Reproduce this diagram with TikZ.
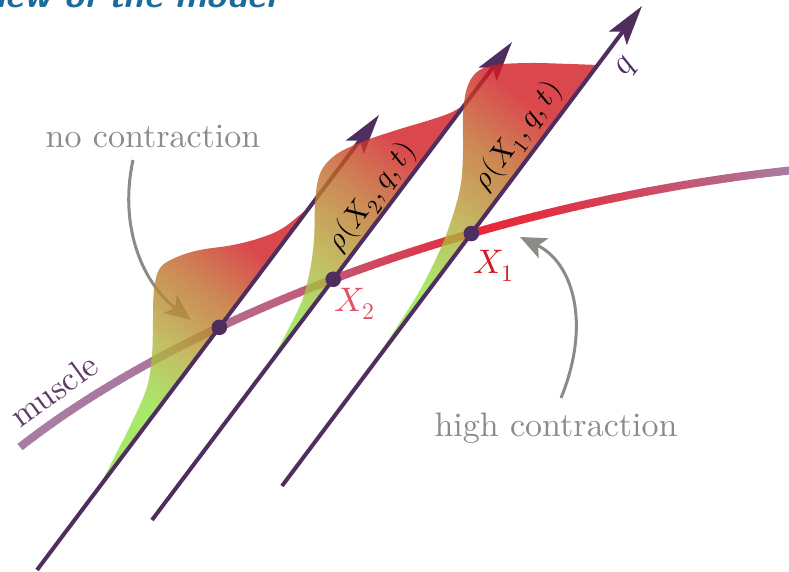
\documentclass[tikz,border=0pt]{standalone}
\usepackage{fontspec}
\usepackage{unicode-math}
\setmainfont{lmroman10-regular.otf}[ItalicFont=lmroman10-italic.otf,BoldFont=lmroman10-bold.otf]
\setmathfont{latinmodern-math.otf}
\usetikzlibrary{arrows.meta,intersections}
\definecolor{axcol}{RGB}{79,45,94}
\definecolor{graycol}{RGB}{138,140,134}
\definecolor{mpurp}{RGB}{168,124,163}
\definecolor{mred}{RGB}{232,40,55}
\definecolor{shgreen}{RGB}{146,226,69}
\definecolor{sholive}{RGB}{180,174,61}
\definecolor{shbrown}{RGB}{192,105,42}
\definecolor{shred}{RGB}{209,26,34}
\definecolor{xonecol}{RGB}{215,25,35}
\definecolor{xtwocol}{RGB}{224,80,100}
\definecolor{titleblue}{RGB}{26,108,156}
\definecolor{muslabel}{RGB}{95,60,105}
\pgfdeclareverticalshading{dens}{100bp}{color(0bp)=(shgreen); color(34bp)=(shgreen); color(46bp)=(sholive); color(60bp)=(shbrown); color(72bp)=(shred); color(100bp)=(shred)}
\begin{document}
\begin{tikzpicture}[x=0.5pt,y=-0.5pt,
  every node/.style={font=\fontsize{17}{20}\selectfont, inner sep=0pt},
  rholabel/.style={rotate=53.13, font=\fontsize{15}{18}\selectfont},
  axisline/.style={draw=axcol, line width=2pt, -{Stealth[length=20pt,width=11pt,inset=4pt]}},
  pointer/.style={draw=graycol, line width=1.5pt, -{Stealth[length=13pt,width=11pt,inset=3pt]}},
  density/.style={shading=dens, shading angle=-37, fill opacity=0.8},
  dotstyle/.style={fill=axcol}]
\useasboundingbox (0,0) rectangle (789,572);

% title (cut off at the top)
\node[anchor=base east, text=titleblue, font=\sffamily\bfseries\itshape\fontsize{18}{20}\selectfont] (title) at (276,8) {Overview of the model};

% muscle with colour gradient
\foreach \xs in {0,6,...,792}{
  \pgfmathsetmacro\xm{\xs+3}
  \pgfmathsetmacro\aa{max(\xm-20,0)/453}
  \pgfmathsetmacro\bb{max(min(\xm-473,316),0)/316}
  \pgfmathtruncatemacro\p{\xm<473 ? 100*\aa*\aa : 100*(1-\bb*sqrt(\bb))}
  \begin{scope}
    \clip (\xs-0.7,0) rectangle (\xs+6.7,572);
    \draw[line width=4pt, draw=mred!\p!mpurp] (20,447) .. controls (220,291) and (545,195) .. (795,170);
  \end{scope}
}
\path[name path=muscle] (20,447) .. controls (220,291) and (545,195) .. (795,170);

% pointer arrows
\node[text=graycol] (nc) at (153,137) {no contraction};
\node[text=graycol] (hc) at (556,428) {high contraction};
\coordinate (ncS) at (133,160);
\coordinate (ncE) at (191,320);
\coordinate (hcS) at (561,398);
\coordinate (hcE) at (520,237);
\draw[pointer] (ncS) .. controls (118,230) and (145,285) .. (ncE);
\draw[pointer] (hcS) .. controls (592,322) and (572,262) .. (hcE);

% axes coordinates
\coordinate (a1s) at (282,486); \coordinate (a1e) at (642,6);
\coordinate (a2s) at (152,520); \coordinate (a2e) at (512,42);
\coordinate (a3s) at (37,570);  \coordinate (a3e) at (379,115);
\path[name path=ax1] (a1s) -- (a1e);
\path[name path=ax2] (a2s) -- (a2e);
\path[name path=ax3] (a3s) -- (a3e);
\path[name intersections={of=muscle and ax1, by=X1}];
\path[name intersections={of=muscle and ax2, by=X2}];
\path[name intersections={of=muscle and ax3, by=X3}];

% density 1 + axis 3
\shade[density] plot[smooth, tension=0.6] coordinates {(99,487) (117,452) (133,420) (147,387) (152,355) (153,320) (154,290) (160,268) (177,257) (200,250) (233,245) (260,238) (283,228) (308,208)} -- cycle;
\draw[axisline] (a3s) -- (a3e);
% density 2 + axis 2
\shade[density] plot[smooth, tension=0.6] coordinates {(237,407) (257,380) (277,350) (292,322) (303,298) (310,270) (314,240) (315,205) (318,180) (325,165) (340,152) (367,140) (400,129) (430,120) (450,113) (466,104)} -- cycle;
\draw[axisline] (a2s) -- (a2e);
% density 3 + axis 1
\shade[density] plot[smooth, tension=0.6] coordinates {(365,375) (393,333) (420,290) (440,250) (453,215) (461,183) (463,150) (463,115) (467,88) (477,72) (495,65) (530,63) (570,64) (598,65)} -- cycle;
\draw[axisline] (a1s) -- (a1e);

% dots
\fill[dotstyle] (X1) circle (3.9pt);
\fill[dotstyle] (X2) circle (3.9pt);
\fill[dotstyle] (X3) circle (3.9pt);

% labels
\node[text=xonecol] (lx1) at (494,266) {$X_1$};
\node[text=xtwocol] (lx2) at (355,304) {$X_2$};
\node[rholabel] (rho2) at (372,197) {$\rho(X_2,q,t)$};
\node[rholabel] (rho1) at (518,136) {$\rho(X_1,q,t)$};
\node[rotate=53.13, text=axcol] (lq) at (627,67) {$q$};
\node[rotate=36, text=muslabel] (lm) at (54,390) {muscle};
\end{tikzpicture}
\end{document}
